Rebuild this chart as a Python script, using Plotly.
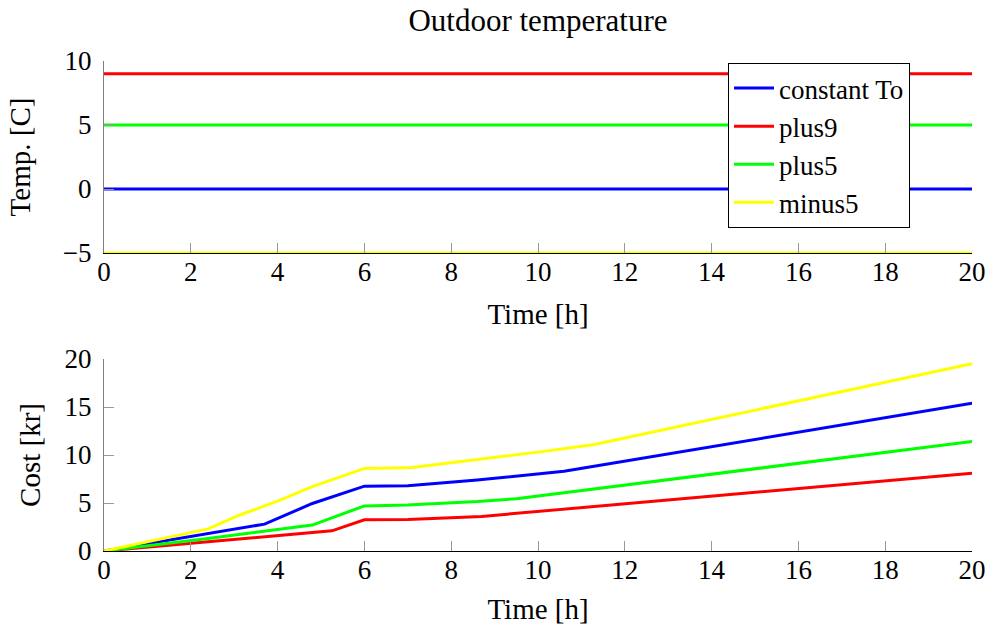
import plotly.graph_objects as go

# ---- data ----
hours_top = [0, 20]
temp_constant = [0, 0]
temp_plus9 = [9, 9]
temp_plus5 = [5, 5]
temp_minus5 = [-5, -5]

cost_constant_x = [0, 2.4, 3.7, 4.8, 6.0, 7.0, 8.6, 10.6, 20]
cost_constant_y = [0, 1.8, 2.8, 4.95, 6.75, 6.8, 7.4, 8.3, 15.4]
cost_plus9_x = [0, 5.25, 6.0, 7.0, 8.7, 20]
cost_plus9_y = [0, 2.1, 3.25, 3.27, 3.6, 8.1]
cost_plus5_x = [0, 2.4, 4.8, 6.0, 7.0, 8.6, 9.5, 20]
cost_plus5_y = [0, 1.3, 2.7, 4.7, 4.8, 5.15, 5.45, 11.4]
cost_minus5_x = [0, 2.4, 3.1, 4.0, 4.8, 6.0, 7.1, 8.6, 10.0, 11.3, 20]
cost_minus5_y = [0, 2.3, 3.7, 5.2, 6.7, 8.6, 8.7, 9.5, 10.3, 11.1, 19.5]

names = ["constant To", "plus9", "plus5", "minus5"]
colors = ["#0000ff", "#ff0000", "#00ff00", "#ffff00"]

x_ticks = [0, 2, 4, 6, 8, 10, 12, 14, 16, 18, 20]
temp_ticks = [-5, 0, 5, 10]
cost_ticks = [0, 5, 10, 15, 20]

FONT = "Liberation Serif"
FS_TICK = 27
FS_TEXT = 29
FS_TITLE = 31
FS_LEG = 27
W, H = 999, 630

fig = go.Figure()
top_series = [temp_constant, temp_plus9, temp_plus5, temp_minus5]
for name, col, ys in zip(names, colors, top_series):
    fig.add_trace(go.Scatter(x=hours_top, y=ys, mode="lines", name=name,
                             line=dict(color=col, width=3), legendgroup=name,
                             xaxis="x", yaxis="y"))
bottom_series = [(cost_constant_x, cost_constant_y), (cost_plus9_x, cost_plus9_y),
                 (cost_plus5_x, cost_plus5_y), (cost_minus5_x, cost_minus5_y)]
for name, col, (xs, ys) in zip(names, colors, bottom_series):
    fig.add_trace(go.Scatter(x=xs, y=ys, mode="lines", name=name, showlegend=False,
                             line=dict(color=col, width=3), legendgroup=name,
                             xaxis="x2", yaxis="y2"))

xl, xr = 104 / W, 972 / W
def ydom(top_px, bot_px):
    return [1 - bot_px / H, 1 - top_px / H]

common_x = dict(range=[0, 20], tickvals=x_ticks, ticks="inside", ticklen=10,
                tickcolor="#999999", tickwidth=1, showline=True, linecolor="#000000",
                linewidth=1, showgrid=False, zeroline=False, automargin=False,
                tickfont=dict(family=FONT, size=FS_TICK, color="black"),
                ticklabelstandoff=-5, domain=[xl, xr], fixedrange=True)
common_y = dict(ticks="inside", ticklen=10, tickcolor="#999999", tickwidth=1,
                showline=True, linecolor="#808080", linewidth=1, showgrid=False,
                zeroline=False, automargin=False,
                tickfont=dict(family=FONT, size=FS_TICK, color="black"),
                ticklabelstandoff=6, fixedrange=True)

fig.update_layout(
    width=W, height=H,
    margin=dict(l=0, r=0, t=0, b=0),
    paper_bgcolor="white", plot_bgcolor="white",
    font=dict(family=FONT, size=FS_TEXT, color="black"),
    title=dict(text="Outdoor temperature", x=538 / W, xanchor="center",
               y=1 - 20 / H, yanchor="middle", font=dict(family=FONT, size=FS_TITLE)),
    xaxis=dict(common_x, anchor="y",
               title=dict(text="Time [h]", standoff=17, font=dict(family=FONT, size=FS_TEXT))),
    yaxis=dict(common_y, range=[-5, 10], tickvals=temp_ticks, anchor="x",
               domain=ydom(61, 253),
               title=dict(text="Temp. [C]", standoff=23, font=dict(family=FONT, size=FS_TEXT))),
    xaxis2=dict(common_x, anchor="y2",
                title=dict(text="Time [h]", standoff=14, font=dict(family=FONT, size=FS_TEXT))),
    yaxis2=dict(common_y, range=[0, 20], tickvals=cost_ticks, anchor="x2",
                domain=ydom(359, 551),
                title=dict(text="Cost [kr]", standoff=15, font=dict(family=FONT, size=FS_TEXT))),
    legend=dict(x=728 / W, y=1 - 63 / H, xanchor="left", yanchor="top",
                bgcolor="white", bordercolor="black", borderwidth=1,
                font=dict(family=FONT, size=FS_LEG), tracegroupgap=0,
                itemwidth=40),
    showlegend=True,
)

fig.write_html("out.html", config={"displayModeBar": False},
               post_script="document.body.style.margin='0';document.body.style.padding='0';")
